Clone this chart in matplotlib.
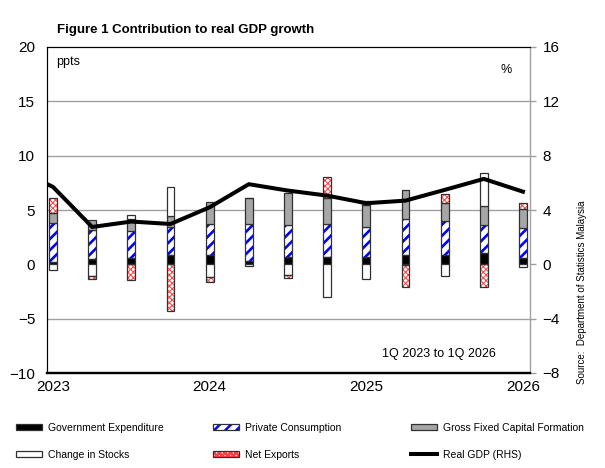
import numpy as np
import matplotlib
matplotlib.use("Agg")
import matplotlib.pyplot as plt
from matplotlib.patches import Patch
from matplotlib.lines import Line2D

plt.rcParams['font.family'] = ['Liberation Sans', 'DejaVu Sans']

quarters = ['1Q 2023', '2Q 2023', '3Q 2023', '4Q 2023', '1Q 2024', '2Q 2024', '3Q 2024',
            '4Q 2024', '1Q 2025', '2Q 2025', '3Q 2025', '4Q 2025', '1Q 2026']
year_labels = ['2023', '2024', '2025', '2026']

gov    = [0.2, 0.5, 0.6, 0.9, 0.85, 0.3, 0.7, 0.65, 0.65, 0.85, 0.85, 1.0, 0.55]
priv   = [3.6, 2.7, 2.5, 2.55, 2.9, 3.4, 2.95, 3.05, 2.8, 3.3, 3.1, 2.6, 2.8]
gfcf   = [0.9, 0.9, 1.05, 1.0, 2.0, 2.45, 2.95, 2.4, 2.05, 2.7, 1.7, 1.8, 1.7]
stocks = [-0.5, -1.1, 0.4, 2.65, -1.2, -0.15, -1.0, -3.0, -1.35, -0.1, -1.1, 3.0, -0.2]
netexp = [1.45, -0.25, -1.4, -4.25, -0.4, 0.0, -0.25, 1.95, 0.35, -2.0, 0.85, -2.05, 0.55]

gdp_prev = 7.1   # 4Q 2022, partly visible at left edge
gdp = [5.7, 2.75, 3.15, 2.97, 4.2, 5.9, 5.43, 5.06, 4.5, 4.69, 5.48, 6.29, 5.35]

fig = plt.figure(figsize=(6.05, 4.68), dpi=100)
ax = fig.add_axes([47/605, 1-373/468, (530-47)/605, (373-47)/468])
ax2 = ax.twinx()

x = np.arange(len(quarters))
w = 0.2
edge = '#303030'

series = [
    (gov,    dict(color='black')),
    (priv,   dict(color='white', hatch='///', hcol='#0000ff')),
    (gfcf,   dict(color='#a6a6a6')),
    (stocks, dict(color='white')),
    (netexp, dict(color='white', hatch='xxxxxx', hcol='#ff4040')),
]

pos_bottom = np.zeros(len(x))
neg_bottom = np.zeros(len(x))
for vals, st in series:
    v = np.array(vals, dtype=float)
    bottom = np.where(v >= 0, pos_bottom, neg_bottom)
    if 'hatch' in st:
        hlw = 1.9 if st['hatch'] == '///' else 0.7
        plt.rcParams['hatch.linewidth'] = hlw
        bars = ax.bar(x, v, w, bottom=bottom, color=st['color'], edgecolor=st['hcol'],
                      hatch=st['hatch'], linewidth=0, zorder=2)
        for b in bars:
            if hasattr(b, 'set_hatch_linewidth'):
                b.set_hatch_linewidth(hlw)
        ax.bar(x, v, w, bottom=bottom, fill=False, edgecolor=edge, linewidth=0.9, zorder=3)
    else:
        ax.bar(x, v, w, bottom=bottom, color=st['color'], edgecolor=edge, linewidth=0.9, zorder=3)
    pos_bottom = pos_bottom + np.where(v >= 0, v, 0)
    neg_bottom = neg_bottom + np.where(v < 0, v, 0)

ax.set_ylim(-10, 20)
ax.set_yticks(np.arange(-10, 21, 5))
ax.set_xlim(-0.153, 12.18)
ax.set_xticks([0, 4, 8, 12])
ax.set_xticklabels(year_labels)
for gy in [15, 10, 5, -5]:
    ax.axhline(gy, color='#a0a0a0', linewidth=1.0, zorder=1)
ax.tick_params(axis='y', length=0, pad=8.5, labelsize=11)
ax.tick_params(axis='x', length=0, pad=5, labelsize=11)

ax2.plot(np.concatenate([[-1], x]), np.concatenate([[gdp_prev], gdp]),
         color='black', linewidth=2.9, solid_joinstyle='round', zorder=5)
ax2.set_ylim(-8, 16)
ax2.set_yticks(np.arange(-8, 17, 4))
ax2.tick_params(axis='y', length=4, width=1, color='#a0a0a0', pad=5, labelsize=11)
ax2.set_xlim(-0.153, 12.18)

for a in (ax, ax2):
    a.spines['top'].set_color('black')
    a.spines['left'].set_color('black')
    a.spines['bottom'].set_color('black')
    a.spines['bottom'].set_linewidth(1.6)
    a.spines['right'].set_color('#a0a0a0')
    a.spines['right'].set_linewidth(1.0)
ax.spines['right'].set_visible(False)

ax.text(0.018, 0.955, 'ppts', transform=ax.transAxes, fontsize=9, va='center', ha='left')
ax.text(0.938, 0.928, '%', transform=ax.transAxes, fontsize=9, va='center', ha='left')
ax.text(0.93, 0.058, '1Q 2023 to 1Q 2026', transform=ax.transAxes, fontsize=9,
        va='center', ha='right')

fig.text(57/605, 1-30/468, 'Figure 1 Contribution to real GDP growth', fontsize=9.5,
         fontweight='bold', va='center', ha='left')
fig.text(582/605, 1-292/468, 'Source:  Department of Statistics Malaysia', fontsize=7,
         rotation=90, va='center', ha='center')

# legend handles
def solid(c):
    return Patch(facecolor=c, edgecolor=edge, linewidth=0.9)

plt.rcParams['hatch.linewidth'] = 1.8
h_priv = (Patch(facecolor='white', edgecolor='#0000ff', hatch='///', linewidth=0),
          Patch(fill=False, edgecolor=edge, linewidth=0.9))
h_nx = (Patch(facecolor='white', edgecolor='#ff4040', hatch='xxxxxx', linewidth=0),
        Patch(fill=False, edgecolor=edge, linewidth=0.9))
h_gdp = Line2D([], [], color='black', linewidth=2.9)

cols = [
    ([solid('black'), solid('white')], ['Government Expenditure', 'Change in Stocks'], 16),
    ([h_priv, h_nx], ['Private Consumption', 'Net Exports'], 213),
    ([solid('#a6a6a6'), h_gdp], ['Gross Fixed Capital Formation', 'Real GDP (RHS)'], 411),
]
for hs, ls, px in cols:
    fig.legend(hs, ls, loc='upper left', bbox_to_anchor=(px/605, 1-423/468),
               frameon=False, fontsize=7.5, handlelength=2.5, handleheight=0.55,
               handletextpad=0.55, borderpad=0, borderaxespad=0, labelspacing=1.62)

fig.savefig('out.png', dpi=100)
